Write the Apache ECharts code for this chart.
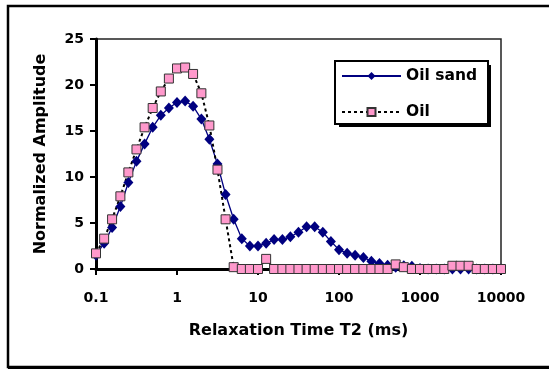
<!DOCTYPE html>
<html>
<head>
<meta charset="utf-8">
<script src="https://cdn.jsdelivr.net/npm/echarts@6/dist/echarts.min.js"></script>
<style>
html,body{margin:0;padding:0;background:#fff;}
#chart{width:549px;height:371px;}
</style>
</head>
<body>
<div id="chart"></div>
<script>
var t2Times = [
  0.1, 0.126, 0.158, 0.2, 0.251, 0.316, 0.398, 0.501, 0.631, 0.794,
  1, 1.26, 1.58, 2, 2.51, 3.16, 3.98, 5.01, 6.31, 7.94,
  10, 12.6, 15.8, 20, 25.1, 31.6, 39.8, 50.1, 63.1, 79.4,
  100, 126, 158, 200, 251, 316, 398, 501, 631, 794,
  1000, 1259, 1585, 1995, 2512, 3162, 3981, 5012, 6310, 7943,
  10000
];
var oilSand = [
  1.5, 2.8, 4.5, 6.8, 9.4, 11.7, 13.6, 15.4, 16.7, 17.5,
  18.1, 18.25, 17.7, 16.3, 14.1, 11.4, 8.1, 5.4, 3.3, 2.5,
  2.5, 2.8, 3.2, 3.2, 3.5, 4.0, 4.6, 4.6, 4.0, 3.0,
  2.1, 1.7, 1.5, 1.25, 0.85, 0.6, 0.4, 0.2, 0.35, 0.3,
  0.05, 0, 0, 0, 0, 0, 0, 0, 0, 0,
  0
];
var oil = [
  1.7, 3.3, 5.4, 7.9, 10.5, 13.0, 15.4, 17.5, 19.3, 20.7,
  21.8, 21.9, 21.2, 19.1, 15.6, 10.8, 5.4, 0.2, 0, 0,
  0, 1.1, 0, 0, 0, 0, 0, 0, 0, 0,
  0, 0, 0, 0, 0, 0, 0, 0.5, 0.2, 0,
  0, 0, 0, 0, 0.35, 0.35, 0.35, 0, 0, 0,
  0
];
var xTickLabels = {0.1: '0.1', 1: '1', 10: '10', 100: '100', 1000: '1000', 10000: '10000'};
var seriesNames = ['Oil sand', 'Oil'];
var xTitle = 'Relaxation Time T2 (ms)';
var yTitle = 'Normalized Amplitude';

function pairs(xs, ys) { return xs.map(function (x, i) { return [x, ys[i]]; }); }
function tickLabel(v) {
  var keys = Object.keys(xTickLabels);
  for (var i = 0; i < keys.length; i++) {
    var k = parseFloat(keys[i]);
    if (Math.abs(Math.log10(v) - Math.log10(k)) < 1e-6) return xTickLabels[keys[i]];
  }
  return '';
}

var FONT = 'DejaVu Sans';
var chart = echarts.init(document.getElementById('chart'), null, {renderer: 'canvas'});
chart.setOption({
  animation: false,
  backgroundColor: '#fff',
  textStyle: {fontFamily: FONT},
  graphic: [
    {type: 'rect', z: -10, silent: true,
     shape: {x: 8, y: 6, width: 570, height: 361},
     style: {fill: 'none', stroke: '#000', lineWidth: 2.5}},
    {type: 'line', z: -10, silent: true,
     shape: {x1: 8, y1: 368, x2: 560, y2: 368},
     style: {stroke: '#000', lineWidth: 2}},
    {type: 'rect', z: 3, silent: true,
     shape: {x: 339, y: 65, width: 152, height: 62},
     style: {fill: '#000', stroke: 'none'}}
  ],
  grid: {left: 96, right: 48, top: 39, bottom: 102, show: true,
         borderColor: '#222', borderWidth: 1.5, backgroundColor: '#fff'},
  legend: {
    orient: 'vertical', left: 335, top: 61, z: 5,
    data: seriesNames,
    itemWidth: 59, itemHeight: 10, itemGap: 20, itemTextGap: 5,
    padding: [7, 11, 4, 6],
    backgroundColor: '#fff', borderColor: '#000', borderWidth: 2,
    textStyle: {fontFamily: FONT, fontWeight: 'bold', fontSize: 15.5, color: '#000'}
  },
  xAxis: {
    type: 'log', logBase: 10, min: 0.1, max: 10000,
    name: xTitle, nameLocation: 'middle', nameGap: 54,
    nameTextStyle: {fontFamily: FONT, fontWeight: 'bold', fontSize: 16, color: '#000'},
    axisLine: {show: true, lineStyle: {color: '#000', width: 3}},
    axisTick: {show: true, inside: false, length: 6, lineStyle: {color: '#000', width: 2}},
    minorTick: {show: false},
    splitLine: {show: false},
    axisLabel: {margin: 22, fontFamily: FONT, fontWeight: 'bold', fontSize: 14, color: '#000',
                formatter: tickLabel}
  },
  yAxis: {
    type: 'value', min: 0, max: 25, interval: 5,
    name: yTitle, nameLocation: 'middle', nameGap: 47,
    nameTextStyle: {fontFamily: FONT, fontWeight: 'bold', fontSize: 16, color: '#000'},
    axisLine: {show: true, lineStyle: {color: '#000', width: 3}},
    axisTick: {show: true, inside: false, length: 6, lineStyle: {color: '#000', width: 2}},
    splitLine: {show: false},
    axisLabel: {margin: 12, fontFamily: FONT, fontWeight: 'bold', fontSize: 14, color: '#000'}
  },
  series: [
    {
      name: seriesNames[0], type: 'line', data: pairs(t2Times, oilSand),
      clip: false, symbol: 'diamond', symbolSize: [10, 11], showAllSymbol: true,
      lineStyle: {color: '#000080', width: 1.3},
      itemStyle: {color: '#000080'}
    },
    {
      name: seriesNames[1], type: 'line', data: pairs(t2Times, oil),
      clip: false, symbol: 'rect', symbolSize: 9, showAllSymbol: true,
      lineStyle: {color: '#000', width: 2, type: [3, 3]},
      itemStyle: {color: '#ff99cc', borderColor: '#333', borderWidth: 1}
    }
  ]
});
</script>
</body>
</html>
